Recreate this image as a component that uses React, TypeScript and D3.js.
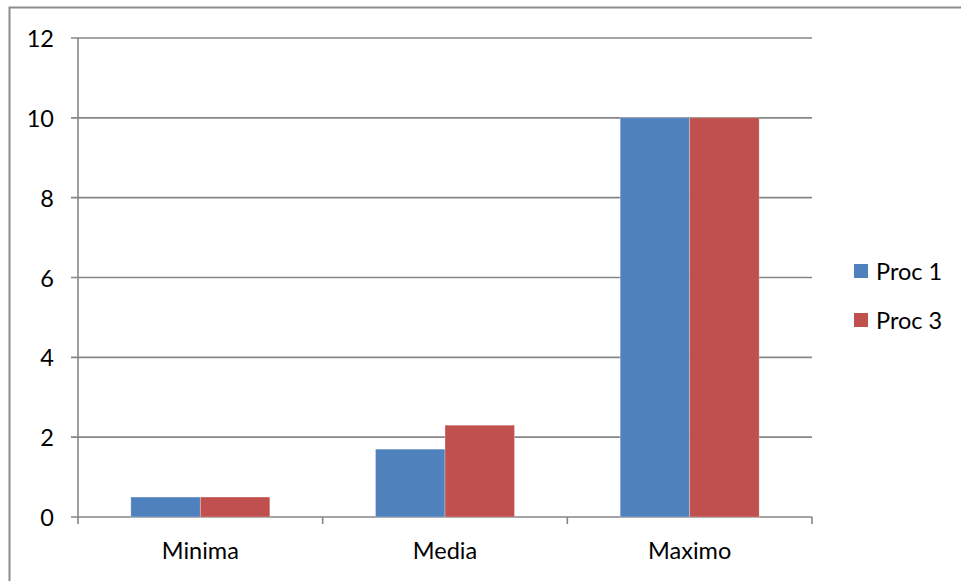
import * as d3 from "d3";

const categories = ["Minima", "Media", "Maximo"];
const seriesNames = ["Proc 1", "Proc 3"];
const proc1 = [0.5, 1.7, 10];
const proc3 = [0.5, 2.3, 10];
const yTicks = [0, 2, 4, 6, 8, 10, 12];

const colors = ["#4F81BD", "#C0504D"];
const fontFamily = "Lato, 'Open Sans', sans-serif";
const fontSize = 23.5;

export default function App() {
  const width = 961;
  const height = 581;
  const left = 78;
  const right = 812;
  const top = 38;
  const bottom = 517;

  // Scales
  const x = d3.scaleBand<string>()
    .domain(categories)
    .range([left, right])
    .paddingInner(0)
    .paddingOuter(0);

  const y = d3.scaleLinear().domain([0, 12]).range([bottom, top]);

  const groupWidth = 139;
  const inner = d3.scaleBand<string>()
    .domain(seriesNames)
    .range([0, groupWidth]);

  const values = [proc1, proc3];
  const gridColor = "#868686";

  return (
    <svg
      width={width}
      height={height}
      style={{ position: "absolute", left: 0, top: 0, background: "#fff" }}
    >
      {/* outer chart border */}
      <rect x={9.5} y={7.5} width={width + 10} height={height + 10} fill="#fff" stroke="#8c8c8c" strokeWidth={2} />

      {/* gridlines + y ticks */}
      {yTicks.map(t => (
        <g key={t}>
          <line x1={71} x2={right} y1={y(t)} y2={y(t)} stroke={gridColor} strokeWidth={1.6} />
          <text
            x={54}
            y={y(t)}
            textAnchor="end"
            dominantBaseline="central"
            fontSize={fontSize}
            fontFamily={fontFamily}
            fill="#000"
          >
            {t}
          </text>
        </g>
      ))}

      {/* y axis line */}
      <line x1={left} x2={left} y1={top} y2={bottom} stroke={gridColor} strokeWidth={1.6} />

      {/* x tick marks */}
      {[...categories.map(c => x(c)!), right].map((px, i) => (
        <line key={i} x1={px} x2={px} y1={bottom} y2={bottom + 7} stroke={gridColor} strokeWidth={1.6} />
      ))}

      {/* bars */}
      {categories.map((c, ci) => {
        const gx = x(c)! + (x.bandwidth() - groupWidth) / 2;
        return (
          <g key={c}>
            {seriesNames.map((s, si) => (
              <rect
                key={s}
                x={gx + inner(s)!}
                y={y(values[si][ci])}
                width={inner.bandwidth()}
                height={bottom - y(values[si][ci])}
                fill={colors[si]}
                stroke="rgba(255,255,255,0.35)"
                strokeWidth={0.8}
              />
            ))}
          </g>
        );
      })}

      {/* x labels */}
      {categories.map(c => (
        <text
          key={c}
          x={x(c)! + x.bandwidth() / 2}
          y={550}
          textAnchor="middle"
          dominantBaseline="central"
          fontSize={fontSize}
          fontFamily={fontFamily}
          fill="#000"
        >
          {c}
        </text>
      ))}

      {/* legend */}
      {seriesNames.map((s, i) => (
        <g key={s} transform={`translate(854,${264 + i * 49})`}>
          <rect x={0} y={0} width={14} height={14} fill={colors[i]} />
          <text
            x={22}
            y={7}
            dominantBaseline="central"
            fontSize={fontSize}
            fontFamily={fontFamily}
            fill="#000"
          >
            {s}
          </text>
        </g>
      ))}
    </svg>
  );
}
